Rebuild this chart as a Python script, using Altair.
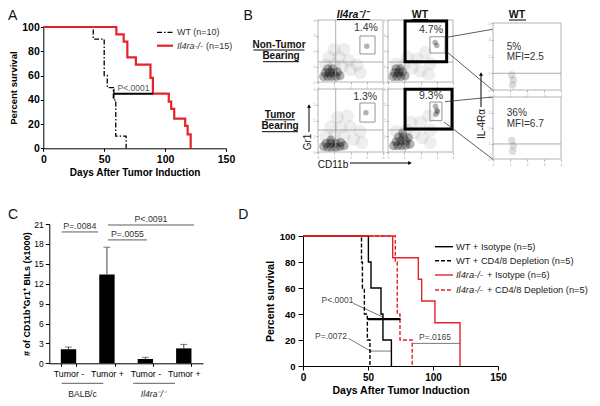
import altair as alt
import pandas as pd

FONT = "Liberation Sans"
RED = "#e4232a"
W, H = 584, 390
ONE = pd.DataFrame({"k": [0]})

# ---------------- Panel A : survival ----------------
a_wt_day = [0, 41, 50, 52.5, 57.5, 59.5, 68]
a_wt_surv = [100, 90, 60, 50, 40, 10, 0]
a_ko_day = [0, 60, 66, 69, 76, 88, 90, 103, 105, 107.5, 116.5, 118.5, 121]
a_ko_surv = [100, 94, 88, 75, 69, 58, 45, 38.5, 32.5, 24.5, 18.5, 11.5, 0]
a_median_day = [58, 90]
a_median_surv = [45]
a_p_text = ["P<.0001"]
a_p_pos = [(74, 50)]
a_ticks_x = [0, 50, 100, 150]
a_ticks_y = [0, 20, 40, 60, 80, 100]

# ---------------- Panel B : flow dot plots ----------------
# order: Il4ra-/- non-tumor, WT non-tumor, Il4ra-/- tumor, WT tumor  (log10 decades 0..4)
b_vline = [1.09, 1.05, 1.09, 1.05]
b_hline = [1.29, 1.29, 1.40, 1.40]
b_gate_x = [(2.58, 3.51), (2.58, 3.51), (2.58, 3.51), (2.58, 3.32)]
b_gate_y = [(1.81, 2.97), (1.87, 2.92), (1.90, 3.11), (1.99, 3.17)]
b_pct = ["1.4%", "4.7%", "1.3%", "9.3%"]
b_pct_pos = [(2.95, 3.5), (2.65, 3.35), (2.9, 3.5), (2.65, 3.55)]
b_wt_box = [None, ((1.05, 3.61), (1.31, 3.94)), None, ((1.05, 3.94), (1.46, 3.98))]
b_core = [
    [(0.35, 0.35), (0.6, 0.35), (0.85, 0.35), (1.1, 0.35), (1.35, 0.4), (0.45, 0.6),
     (0.7, 0.6), (0.95, 0.6), (1.2, 0.65), (0.6, 0.85), (0.9, 0.85)],
    [(0.3, 0.35), (0.55, 0.35), (0.8, 0.35), (1.05, 0.4), (0.4, 0.6), (0.65, 0.6),
     (0.9, 0.65), (0.5, 0.85), (0.75, 0.85)],
    [(0.35, 0.35), (0.6, 0.3), (0.85, 0.3), (1.1, 0.3), (1.35, 0.35), (1.6, 0.4),
     (0.5, 0.55), (0.8, 0.55), (1.1, 0.55), (1.4, 0.6), (0.8, 0.75)],
    [(0.35, 0.4), (0.6, 0.4), (0.85, 0.4), (1.1, 0.45), (1.35, 0.5), (0.5, 0.65),
     (0.8, 0.7), (1.1, 0.7), (0.65, 0.95), (0.95, 0.95), (1.25, 0.9), (0.9, 1.2)],
]
b_halo = [
    [(0.5, 1.1), (1.0, 1.1), (1.5, 1.0), (2.0, 0.8), (0.7, 1.6), (1.3, 1.6), (1.9, 1.4),
     (2.4, 1.1), (1.0, 2.1), (1.6, 2.1), (2.6, 0.6)],
    [(0.5, 1.15), (1.0, 1.1), (1.5, 0.9), (2.0, 0.7), (1.2, 1.6), (1.8, 1.5), (2.3, 1.9),
     (2.6, 1.2), (2.5, 0.5)],
    [(0.5, 1.0), (1.0, 1.0), (1.6, 1.0), (2.2, 0.8), (0.8, 1.6), (1.4, 1.6), (2.0, 1.6),
     (2.6, 1.3), (1.2, 2.2), (1.8, 2.3), (2.7, 0.6)],
    [(0.5, 1.3), (1.1, 1.4), (1.6, 1.2), (2.1, 0.9), (1.4, 1.9), (2.0, 1.9), (2.5, 2.3),
     (2.6, 1.4), (2.6, 0.6)],
]
b_gate_spot = [[(3.0, 2.3)], [(3.0, 2.35), (2.9, 2.55)], [(2.95, 2.5)],
               [(2.95, 2.4), (3.0, 2.65), (2.92, 2.9), (3.05, 2.55)]]
# IL-4Ra plots of WT gated cells (non-tumor, tumor)
b_il4_line = [1.0, 0.97]
b_il4_spot = [[(1.15, 0.3), (1.2, 0.6), (1.1, 0.9)], [(1.15, 0.5), (1.2, 0.85), (1.1, 1.2)]]
b_il4_pct = ["5%", "36%"]
b_il4_mfi = ["MFI=2.5", "MFI=6.7"]
b_il4_text_y = [(2.55, 1.95), (2.95, 2.26)]

# ---------------- Panel C : bars ----------------
c_group = ["BALB/c", "BALB/c", "Il4ra", "Il4ra"]
c_tumor = ["Tumor -", "Tumor +", "Tumor -", "Tumor +"]
c_mean = [2.1, 13.4, 0.65, 2.25]
c_err_top = [2.45, 17.5, 0.9, 2.85]
c_ticks_y = [0, 3, 6, 9, 12, 15, 18, 21]
c_p_text = ["P=.0084", "P=.0055", "P<.0091"]
c_p_level = [19.8, 18.6, 20.85]
c_p_text_level = [20.75, 19.55, 21.8]

# ---------------- Panel D : survival with depletion ----------------
d_wt_iso_day = [0, 50.3, 52.3, 60, 61.5, 68]
d_wt_iso_surv = [100, 80, 60, 40, 20, 0]
d_wt_dep_day = [0, 45, 45.7, 47.2, 49.5, 51.5]
d_wt_dep_surv = [100, 80, 60, 40, 20, 0]
d_ko_iso_day = [0, 69, 88.7, 91.3, 101.5, 120.8]
d_ko_iso_surv = [100, 83.3, 66.7, 50, 33.3, 0]
d_ko_dep_day = [0, 71, 72.5, 74.6, 84]
d_ko_dep_surv = [100, 80, 40, 20, 0]
d_bar_from = [50, 51.5, 84]
d_bar_to = [75, 68, 121]
d_bar_level = [36, 11.5, 17.4]
d_leader = [((38.7, 48.2), (61.8, 37.5)), ((34.9, 21.3), (52.8, 11.0))]
d_p_text = ["P<.0001", "P=.0072", "P=.0165"]
d_p_pos = [(26.5, 51), (21.5, 22.8), (101.5, 22.3)]
d_ticks_x = [0, 50, 100, 150]
d_ticks_y = [0, 20, 40, 60, 80, 100]


# ---------------- helpers ----------------
def surv_axis(orient, offset, values, title, lsize, tsize, tick, lpad, tpad):
    return alt.Axis(orient=orient, offset=offset, values=values, title=title,
                    labelFontSize=lsize, labelFontWeight="bold", titleFontSize=tsize,
                    titleFontWeight="bold", domainColor="black", tickColor="black",
                    labelColor="black", titleColor="black", tickSize=tick,
                    labelPadding=lpad, titlePadding=tpad, labelFlush=False,
                    labelOverlap=False, labelAngle=0, grid=False)


def label(txt, x, y, size=9, weight="normal", style="normal", align="center",
          angle=0, color="#111", baseline="middle"):
    return alt.Chart(ONE).mark_text(text=txt, fontSize=size, fontWeight=weight,
                                    fontStyle=style, align=align, angle=angle,
                                    color=color, baseline=baseline, font=FONT).encode(
        x=alt.value(x), y=alt.value(y))


def seg(x1, y1, x2, y2, color="black", width=1.0, dash=None):
    kw = dict(color=color, strokeWidth=width)
    if dash:
        kw["strokeDash"] = dash
    return alt.Chart(ONE).mark_rule(**kw).encode(
        x=alt.value(x1), y=alt.value(y1), x2=alt.value(x2), y2=alt.value(y2))


def head(x, y, shape):
    return alt.Chart(ONE).mark_point(shape=shape, filled=True, size=16, color="black",
                                     opacity=1).encode(x=alt.value(x), y=alt.value(y))


def steps(days, surv, X, XA, Y, YA, color, width, dash=None):
    kw = dict(interpolate="step-after", color=color, strokeWidth=width)
    if dash:
        kw["strokeDash"] = dash
    return alt.Chart(pd.DataFrame({"day": days, "surv": surv})).mark_line(**kw).encode(
        x=alt.X("day:Q", scale=X, axis=XA), y=alt.Y("surv:Q", scale=Y, axis=YA))


# ---------------- Panel A ----------------
A_X = alt.Scale(domain=[0, 150], range=[35.3, 218], nice=False)
A_Y = alt.Scale(domain=[0, 100], range=[140.3, 19], nice=False)
A_XA = surv_axis("bottom", 140.3 - H, a_ticks_x, "Days After Tumor Induction", 10.5, 10, 3, 3, 3)
A_YA = surv_axis("left", -35.3, a_ticks_y, "Percent survival", 10.5, 9.5, 3, 1, 3)


def ax(f): return alt.X(f, type="quantitative", scale=A_X, axis=A_XA)
def ay(f): return alt.Y(f, type="quantitative", scale=A_Y, axis=A_YA)


a_med = alt.Chart(pd.DataFrame({"x1": [a_median_day[0]], "x2": [a_median_day[1]],
                                "y": a_median_surv})).mark_rule(color="black", strokeWidth=2).encode(
    x=ax("x1"), x2="x2:Q", y=ay("y"))
a_med_tick = alt.Chart(pd.DataFrame({"x": [a_median_day[0]], "y1": [a_median_surv[0] - 4],
                                     "y2": [a_median_surv[0] + 4]})).mark_rule(color="black", strokeWidth=1.2).encode(
    x=ax("x"), y=ay("y1"), y2="y2:Q")
a_ptxt = alt.Chart(pd.DataFrame({"x": [p[0] for p in a_p_pos], "y": [p[1] for p in a_p_pos],
                                 "t": a_p_text})).mark_text(fontSize=8.5, color="#555", font=FONT).encode(
    x=ax("x"), y=ay("y"), text="t:N")
panelA = alt.layer(
    steps(a_wt_day, a_wt_surv, A_X, A_XA, A_Y, A_YA, "black", 1.3, [5, 2, 1.5, 2]),
    steps(a_ko_day, a_ko_surv, A_X, A_XA, A_Y, A_YA, RED, 2.2),
    a_med, a_med_tick, a_ptxt)

legendA = [
    seg(149, 24.3, 165, 24.3, "black", 1.3, [5, 2, 1.5, 2]),
    label("WT (n=10)", 169, 24.3, 9, align="left", color="#333"),
    seg(149, 37.7, 165, 37.7, RED, 2.2),
    label("Il4ra-/-", 169, 37.7, 9, style="italic", align="left", color="#333"),
    label("(n=15)", 198, 37.7, 9, align="left", color="#333"),
]


# ---------------- Panel B ----------------
def flow_panel(xr, yr, hline, vline=None, gate=None, box=None, core=(), halo=(),
               spots=(), spot_style=("#111", 35, 0.55), texts=()):
    X = alt.Scale(domain=[0, 4], range=xr, nice=False, zero=False)
    Y = alt.Scale(domain=[0, 4], range=yr, nice=False, zero=False)
    common = dict(values=[0, 1, 2, 3, 4], title=None, domain=False, tickSize=2,
                  tickColor="#aaa", labelFontSize=3.5, labelColor="#aaa", labelPadding=1,
                  grid=False, labelFlush=False)
    XA = alt.Axis(orient="bottom", offset=yr[0] - H, **common)
    YA = alt.Axis(orient="left", offset=-xr[0], **common)

    def fx(f): return alt.X(f, type="quantitative", scale=X, axis=XA)
    def fy(f): return alt.Y(f, type="quantitative", scale=Y, axis=YA)

    layers = []
    if halo:
        layers.append(alt.Chart(pd.DataFrame(halo, columns=["x", "y"])).mark_circle(
            size=170, opacity=0.09, color="#444").encode(x=fx("x"), y=fy("y")))
    if core:
        layers.append(alt.Chart(pd.DataFrame(core, columns=["x", "y"])).mark_circle(
            size=85, opacity=0.3, color="#000").encode(x=fx("x"), y=fy("y")))
    if spots:
        c, s, o = spot_style
        layers.append(alt.Chart(pd.DataFrame(spots, columns=["x", "y"])).mark_circle(
            size=s, opacity=o, color=c).encode(x=fx("x"), y=fy("y")))
    layers.append(alt.Chart(pd.DataFrame({"x1": [0], "x2": [4], "y1": [0], "y2": [4]})).mark_rect(
        fillOpacity=0, stroke="#aaa", strokeWidth=0.9).encode(
        x=fx("x1"), x2="x2:Q", y=fy("y1"), y2="y2:Q"))
    layers.append(alt.Chart(pd.DataFrame({"x1": [0], "x2": [4], "y": [hline]})).mark_rule(
        color="#999", strokeWidth=0.8).encode(x=fx("x1"), x2="x2:Q", y=fy("y")))
    if vline is not None:
        layers.append(alt.Chart(pd.DataFrame({"x": [vline], "y1": [0], "y2": [4]})).mark_rule(
            color="#999", strokeWidth=0.8).encode(x=fx("x"), y=fy("y1"), y2="y2:Q"))
    if gate is not None:
        layers.append(alt.Chart(pd.DataFrame({"x1": [gate[0][0]], "x2": [gate[0][1]],
                                              "y1": [gate[1][0]], "y2": [gate[1][1]]})).mark_rect(
            fillOpacity=0, stroke="#888", strokeWidth=0.9).encode(
            x=fx("x1"), x2="x2:Q", y=fy("y1"), y2="y2:Q"))
    if box is not None:
        layers.append(alt.Chart(pd.DataFrame({"x1": [box[0][0]], "x2": [box[0][1]],
                                              "y1": [box[1][0]], "y2": [box[1][1]]})).mark_rect(
            fillOpacity=0, stroke="black", strokeWidth=3).encode(
            x=fx("x1"), x2="x2:Q", y=fy("y1"), y2="y2:Q"))
    for t, x, y, align in texts:
        layers.append(alt.Chart(pd.DataFrame({"x": [x], "y": [y], "t": [t]})).mark_text(
            fontSize=10.5 if align == "center" else 10, color="#333", align=align, font=FONT).encode(
            x=fx("x"), y=fy("y"), text="t:N"))
    return alt.layer(*layers)


flow_ranges = [([310, 375], [74, 12]), ([380, 445], [74, 12]),
               ([310, 375], [144, 81]), ([380, 445], [144, 81])]
flow_panels = []
for i, (xr, yr) in enumerate(flow_ranges):
    flow_panels.append(flow_panel(
        xr, yr, b_hline[i], b_vline[i], (b_gate_x[i], b_gate_y[i]), b_wt_box[i],
        b_core[i], b_halo[i], b_gate_spot[i], ("#222", 30, 0.35),
        [(b_pct[i], b_pct_pos[i][0], b_pct_pos[i][1], "center")]))
il4_ranges = [([485, 553], [82, 15]), ([485, 553], [151, 89])]
for i, (xr, yr) in enumerate(il4_ranges):
    flow_panels.append(flow_panel(
        xr, yr, b_il4_line[i], spots=b_il4_spot[i], spot_style=("#777", 55, 0.25),
        texts=[(b_il4_pct[i], 0.81, b_il4_text_y[i][0], "left"),
               (b_il4_mfi[i], 0.81, b_il4_text_y[i][1], "left")]))

annotB = [
    label("Il4ra⁻/⁻", 345, 9.5, 10.5, "bold", "italic", baseline="alphabetic"),
    seg(329, 11.5, 362, 11.5, "black", 1),
    label("WT", 412, 9.5, 10.5, "bold", baseline="alphabetic"),
    seg(404, 11.5, 420, 11.5, "black", 1),
    label("WT", 509, 10, 10.5, "bold", baseline="alphabetic"),
    seg(501, 12, 518, 12, "black", 1),
    label("Non-Tumor", 271, 40.3, 10, "bold", baseline="alphabetic"),
    seg(245.5, 42, 296.5, 42, "black", 1),
    label("Bearing", 273, 50.9, 10, "bold", baseline="alphabetic"),
    seg(255, 53.7, 291, 53.7, "black", 1),
    label("Tumor", 272, 110.3, 10, "bold", baseline="alphabetic"),
    seg(257, 111.8, 287, 111.8, "black", 1),
    label("Bearing", 272, 120.9, 10, "bold", baseline="alphabetic"),
    seg(254, 123.7, 290, 123.7, "black", 1),
    label("Gr1", 300.3, 134, 10, angle=270),
    seg(301, 124, 301, 99, "black", 1),
    head(301, 98, "triangle-up"),
    label("CD11b", 325, 157, 10),
    seg(342, 155, 401, 155, "black", 1),
    head(402, 155, "triangle-right"),
    label("IL-4Rα", 473.5, 116, 10, angle=270),
    seg(473, 99, 473, 67, "black", 1),
    head(473, 66, "triangle-up"),
    seg(438.7, 29.3, 484.5, 21.3, "#333", 0.8),
    seg(438.7, 43.7, 484.5, 82, "#333", 0.8),
    seg(437, 93.7, 484.5, 89, "#333", 0.8),
    seg(436, 114, 484.5, 151, "#333", 0.8),
]

# ---------------- Panel C ----------------
c_cat = [f"{g}|{t}" for g, t in zip(c_group, c_tumor)]
c_df = pd.DataFrame({"cat": c_cat, "mean": c_mean, "top": c_err_top})
C_X = alt.Scale(domain=c_cat, range=[41.3, 195], paddingInner=0.6, paddingOuter=0.3)
C_Y = alt.Scale(domain=[0, 21], range=[355.3, 216], nice=False)
C_XA = alt.Axis(orient="bottom", offset=355.3 - H, title=None,
                labelExpr="split(datum.value, '|')[1]", tickBand="extent", labelAngle=0,
                labelFontSize=8.8, labelColor="black", domainColor="black", tickColor="black",
                tickSize=3, labelPadding=3, grid=False)
C_YA = alt.Axis(orient="left", offset=-41.3, values=c_ticks_y,
                title="# of CD11b⁺Gr1⁺ BILs (x1000)", titleFontSize=9, titleFontWeight="bold",
                titleColor="black", labelFontSize=8.5, labelColor="black", domainColor="black",
                tickColor="black", tickSize=4, labelPadding=2, titlePadding=2, grid=False,
                labelFlush=False)


def cx(f): return alt.X(f, type="nominal", scale=C_X, axis=C_XA, sort=c_cat)
def cy(f): return alt.Y(f, type="quantitative", scale=C_Y, axis=C_YA)


c_bars = alt.Chart(c_df).mark_bar(color="black").encode(x=cx("cat"), y=cy("mean"))
c_err = alt.Chart(c_df).mark_rule(color="#444", strokeWidth=1).encode(x=cx("cat"), y=cy("mean"), y2="top:Q")
c_cap = alt.Chart(c_df).mark_tick(color="#444", thickness=1, size=7, orient="horizontal").encode(
    x=cx("cat"), y=cy("top"))
c_sig_x = [(53.7, 90), (100, 139), (100, 186)]
c_sig = []
for (x1, x2), lvl, t, tl in zip(c_sig_x, c_p_level, c_p_text, c_p_text_level):
    c_sig.append(alt.Chart(pd.DataFrame({"y": [lvl]})).mark_rule(color="#333", strokeWidth=0.8).encode(
        x=alt.value(x1), x2=alt.value(x2), y=cy("y")))
    c_sig.append(alt.Chart(pd.DataFrame({"y": [tl], "t": [t]})).mark_text(
        fontSize=8.8, color="#333", font=FONT).encode(x=alt.value((x1 + x2) / 2), y=cy("y"), text="t:N"))
panelC = alt.layer(c_bars, c_err, c_cap, *c_sig)
annotC = [
    seg(53.7, 375.3, 95.3, 375.3, "#333", 0.8),
    label("BALB/c", 74.5, 386, 8.5, color="#222"),
    seg(125.3, 375.3, 167, 375.3, "#333", 0.8),
    label("Il4ra⁻/⁻", 145.3, 386, 8.5, style="italic", color="#222"),
]

# ---------------- Panel D ----------------
D_X = alt.Scale(domain=[0, 150], range=[295, 490], nice=False)
D_Y = alt.Scale(domain=[0, 100], range=[358, 228], nice=False)
D_XA = surv_axis("bottom", 358 - H, d_ticks_x, "Days After Tumor Induction", 10, 10.5, 4, 2, 3)
D_YA = surv_axis("left", -295, d_ticks_y, "Percent survival", 9.5, 10.5, 5, 3, 4)


def dx(f): return alt.X(f, type="quantitative", scale=D_X, axis=D_XA)
def dy(f): return alt.Y(f, type="quantitative", scale=D_Y, axis=D_YA)


d_bars = alt.Chart(pd.DataFrame({"x1": d_bar_from, "x2": d_bar_to, "y": d_bar_level,
                                 "w": [2.2, 0.8, 0.8]}))
d_thick = d_bars.transform_filter("datum.w > 1").mark_rule(color="black", strokeWidth=2.2).encode(
    x=dx("x1"), x2="x2:Q", y=dy("y"))
d_thin = d_bars.transform_filter("datum.w < 1").mark_rule(color="#555", strokeWidth=0.8).encode(
    x=dx("x1"), x2="x2:Q", y=dy("y"))
d_lead = alt.Chart(pd.DataFrame({"x1": [l[0][0] for l in d_leader], "y1": [l[0][1] for l in d_leader],
                                 "x2": [l[1][0] for l in d_leader], "y2": [l[1][1] for l in d_leader]})
                   ).mark_rule(color="#555", strokeWidth=0.8).encode(
    x=dx("x1"), y=dy("y1"), x2="x2:Q", y2="y2:Q")
d_txt = alt.Chart(pd.DataFrame({"x": [p[0] for p in d_p_pos], "y": [p[1] for p in d_p_pos],
                                "t": d_p_text})).mark_text(fontSize=8.5, color="#444", font=FONT).encode(
    x=dx("x"), y=dy("y"), text="t:N")
panelD = alt.layer(
    d_thin, d_lead,
    steps(d_wt_dep_day, d_wt_dep_surv, D_X, D_XA, D_Y, D_YA, "black", 1.4, [4, 2]),
    steps(d_wt_iso_day, d_wt_iso_surv, D_X, D_XA, D_Y, D_YA, "black", 1.4),
    steps(d_ko_dep_day, d_ko_dep_surv, D_X, D_XA, D_Y, D_YA, RED, 1.4, [4, 2]),
    steps(d_ko_iso_day, d_ko_iso_surv, D_X, D_XA, D_Y, D_YA, RED, 1.4),
    d_thick, d_txt)
legendD = []
for yy, color, dash, parts in [
    (238.7, "black", None, [("WT + Isotype (n=5)", "normal")]),
    (252.7, "black", [4, 2], [("WT + CD4/8 Depletion (n=5)", "normal")]),
    (267, RED, None, [("Il4ra-/-", "italic"), ("+ Isotype (n=6)", "normal")]),
    (282, RED, [4, 2], [("Il4ra-/-", "italic"), ("+  CD4/8 Depletion (n=5)", "normal")]),
]:
    legendD.append(seg(427, yy, 445, yy, color, 1.4, dash))
    xx = 448
    for txt, st in parts:
        legendD.append(label(txt, xx, yy, 9.3, style=st, align="left", color="#222"))
        xx += 31

letters = [label("A", 0, 11.5, 14, align="left", baseline="alphabetic"),
           label("B", 235.5, 11.5, 14, align="left", baseline="alphabetic"),
           label("C", 0, 211.3, 14, align="left", baseline="alphabetic"),
           label("D", 230.3, 211.3, 14, align="left", baseline="alphabetic")]

chart = alt.layer(
    panelA, panelC, panelD, *flow_panels,
    *legendA, *annotB, *annotC, *legendD, *letters
).resolve_scale(x="independent", y="independent").properties(
    width=W, height=H, autosize=alt.AutoSizeParams(type="none"), padding=0
).configure_view(strokeWidth=0).configure_axis(
    labelFont=FONT, titleFont=FONT, grid=False
).configure_text(font=FONT)

chart.save("out.html", embed_options={"renderer": "svg", "actions": False})
